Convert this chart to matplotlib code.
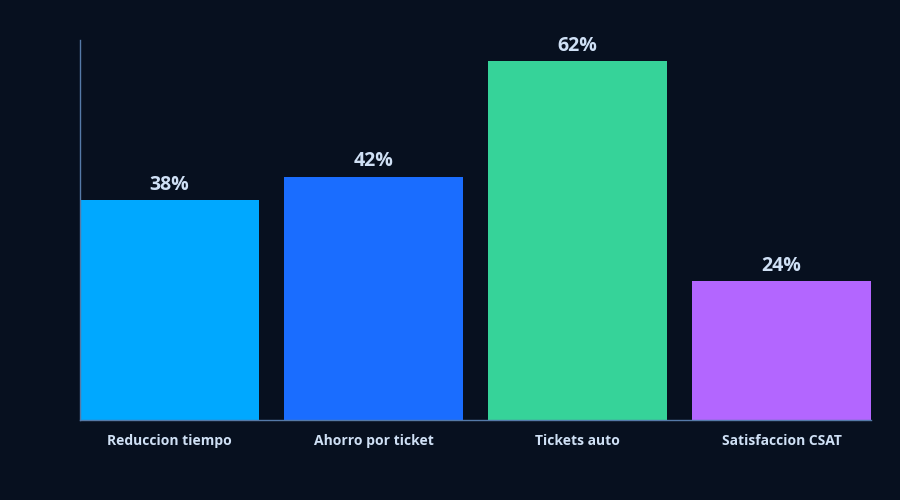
import matplotlib
matplotlib.use("Agg")
import matplotlib.pyplot as plt

# data
categories = ["Reduccion tiempo", "Ahorro por ticket", "Tickets auto", "Satisfaccion CSAT"]
values = [38, 42, 62, 24]
bar_colors = ["#00a8ff", "#1a6dff", "#36d399", "#b366ff"]

BG = "#07101f"
TXT = "#cfe0f5"
SPINE = "#557aa8"

plt.rcParams["font.family"] = ["Open Sans", "DejaVu Sans"]

fig = plt.figure(figsize=(9, 5), dpi=100, facecolor=BG)
ax = fig.add_axes([80 / 900, 80 / 500, 791 / 900, 380 / 500])
ax.set_facecolor(BG)

x = list(range(len(categories)))
w = 0.877
ax.bar(x, values, width=w, color=bar_colors)

for xi, v in zip(x, values):
    ax.text(xi, v + 0.9, f"{v}%", ha="center", va="bottom",
            color=TXT, fontsize=14, fontweight="bold")

ax.set_xlim(-w / 2, len(categories) - 1 + w / 2)
ax.set_ylim(0, 65.6)
ax.set_xticks(x)
ax.set_xticklabels(categories, color=TXT, fontsize=10, fontweight="bold")
ax.set_yticks([])
ax.tick_params(axis="x", length=0, pad=10)

for s in ["top", "right"]:
    ax.spines[s].set_visible(False)
for s in ["left", "bottom"]:
    ax.spines[s].set_color(SPINE)
    ax.spines[s].set_linewidth(1)

fig.savefig("out.png", dpi=100, facecolor=BG)
